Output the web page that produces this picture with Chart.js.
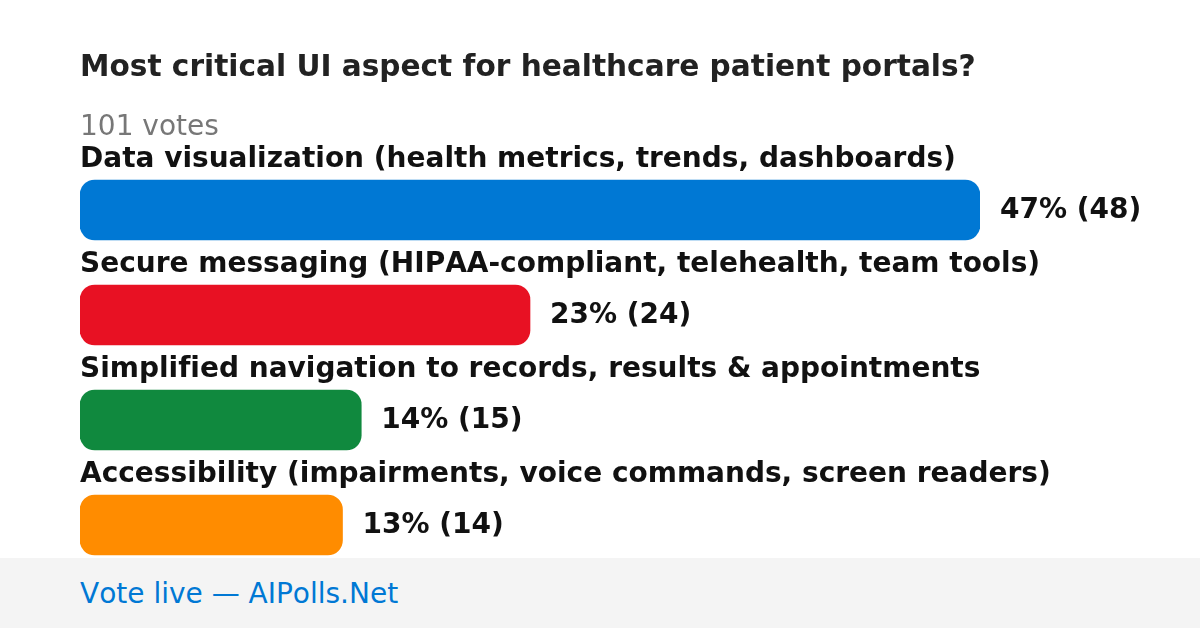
<!DOCTYPE html>
<html>
<head>
<meta charset="utf-8">
<script src="https://cdn.jsdelivr.net/npm/chart.js@4.4.1/dist/chart.umd.min.js"></script>
<style>
  html, body { margin: 0; padding: 0; background: #fff; }
  body { width: 1200px; height: 628px; position: relative; overflow: hidden; font-family: "DejaVu Sans", sans-serif;
         font-variant-ligatures: none; font-kerning: none; }
  #wrap { position: absolute; left: 0; top: 0; width: 1200px; height: 628px; }
  .title { position: absolute; left: 80px; top: 49px; font-size: 29.6px; font-weight: bold; color: #222; white-space: nowrap; }
  .votes { position: absolute; left: 80px; top: 109px; font-size: 28px; color: #777; white-space: nowrap; }
  .footer { position: absolute; left: 0; top: 558px; width: 1200px; height: 70px; background: #f4f4f4; }
  .footer span { position: absolute; left: 80px; top: 19px; font-size: 28px; color: #0078d4; white-space: nowrap; }
</style>
</head>
<body>
<div id="wrap"><canvas id="poll" width="1200" height="628"></canvas></div>
<div class="title">Most critical UI aspect for healthcare patient portals?</div>
<div class="votes">101 votes</div>
<div class="footer"><span>Vote live — AIPolls.Net</span></div>
<script>
const options = [
  'Data visualization (health metrics, trends, dashboards)',
  'Secure messaging (HIPAA-compliant, telehealth, team tools)',
  'Simplified navigation to records, results & appointments',
  'Accessibility (impairments, voice commands, screen readers)'
];
const votes = [48, 24, 15, 14];
const percents = [47, 23, 14, 13];
const colors = ['#0078d4', '#e81123', '#10893e', '#ff8c00'];

// labels above each bar + value text to the right
const pollLabels = {
  id: 'pollLabels',
  afterDatasetsDraw(chart) {
    const ctx = chart.ctx;
    const meta = chart.getDatasetMeta(0);
    ctx.save();
    ctx.textBaseline = 'alphabetic';
    ctx.textAlign = 'left';
    ctx.font = 'bold 28px "DejaVu Sans"';
    ctx.textRendering = 'optimizeSpeed';
    ctx.fontKerning = 'none';
    ctx.fillStyle = '#111';
    meta.data.forEach((bar, i) => {
      const top = bar.y - bar.height / 2;
      ctx.fillText(options[i], chart.chartArea.left, top - 13);
      ctx.fillText(percents[i] + '% (' + votes[i] + ')', bar.x + 20, bar.y + 8);
    });
    ctx.restore();
  }
};

new Chart(document.getElementById('poll'), {
  type: 'bar',
  data: {
    labels: options,
    datasets: [{
      data: votes,
      backgroundColor: colors,
      borderRadius: 15,
      borderSkipped: false,
      barThickness: 60
    }]
  },
  options: {
    indexAxis: 'y',
    responsive: false,
    animation: false,
    layout: { padding: { left: 80, right: 220, top: 157.5, bottom: 50.5 } },
    scales: {
      x: { display: false, min: 0, max: 48 },
      y: { display: false }
    },
    plugins: {
      legend: { display: false },
      tooltip: { enabled: false }
    }
  },
  plugins: [pollLabels]
});
</script>
</body>
</html>
